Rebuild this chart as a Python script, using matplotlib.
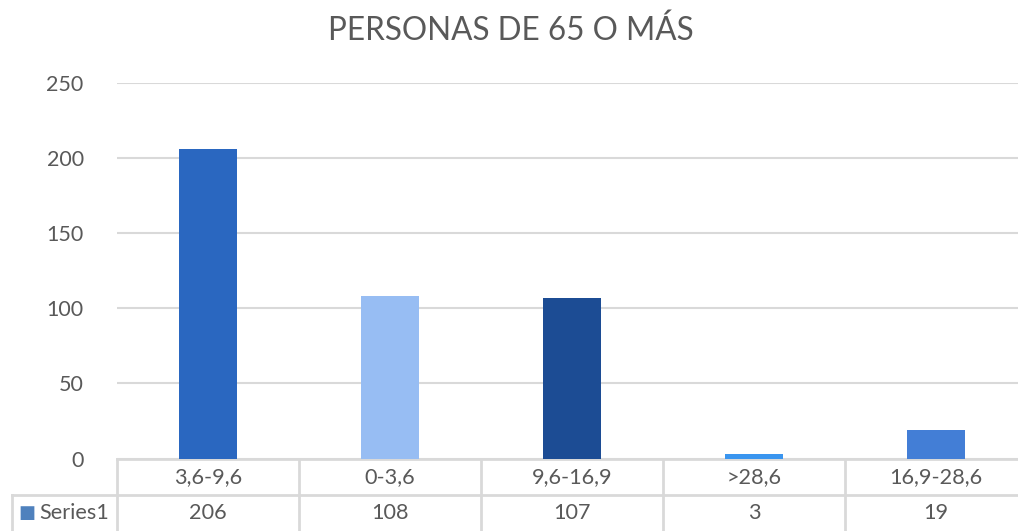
import matplotlib.pyplot as plt
import matplotlib.transforms as mtransforms

# Chart data
categories = ["3,6-9,6", "0-3,6", "9,6-16,9", ">28,6", "16,9-28,6"]
values = [206, 108, 107, 3, 19]
bar_colors = ["#2a67c0", "#97bdf3", "#1c4c94", "#3a95ef", "#437ed6"]
series_name = "Series1"
title = "PERSONAS DE 65 O MÁS"
y_ticks = [0, 50, 100, 150, 200, 250]

text_color = "#595959"
grid_color = "#d9d9d9"

plt.rcParams["font.family"] = ["Lato", "DejaVu Sans"]

fig = plt.figure(figsize=(10.18, 5.31), dpi=100)
# plot area runs slightly past the right edge, as in the source
ax = fig.add_axes([0.1149, 0.1365, 0.8939, 0.7072])

x = list(range(len(categories)))
ax.bar(x, values, width=0.32, color=bar_colors, zorder=3)

ax.set_xlim(-0.5, len(categories) - 0.5)
ax.set_ylim(0, 250)
ax.set_yticks(y_ticks)
ax.set_yticklabels([str(t) for t in y_ticks])
ax.tick_params(axis="y", length=0, pad=24, labelsize=15.5, labelcolor=text_color)
ax.set_xticks([])
for s in ax.spines.values():
    s.set_visible(False)
ax.grid(axis="y", color=grid_color, linewidth=1.5, zorder=0)

fig.text(0.5015, 0.925, title, ha="center", va="baseline", fontsize=22.7,
         color=text_color)

# data table below the plot (x in data coords, y in axes fraction)
trans = mtransforms.blended_transform_factory(ax.transData, ax.transAxes)
row_h = 36.5 / (0.7072 * 531)
y0 = 0.0
y1 = -row_h
y2 = -2 * row_h
lw = 2.0
n = len(categories)
line_kw = dict(color=grid_color, linewidth=lw, transform=trans, clip_on=False,
               zorder=1)
ax.plot([-0.5, n - 0.5], [y0, y0], **line_kw)
ax.plot([-0.5, n - 0.5], [y1, y1], **line_kw)
ax.plot([-0.5, n - 0.5], [y2, y2], **line_kw)
for i in range(n + 1):
    ax.plot([i - 0.5, i - 0.5], [y0, y2], **line_kw)

# left header cell for the series row
left_x = -0.5 - 105 / 182
ax.plot([left_x, -0.5], [y1, y1], **line_kw)
ax.plot([left_x, -0.5], [y2, y2], **line_kw)
ax.plot([left_x, left_x], [y1, y2], **line_kw)

for i, (cat, val) in enumerate(zip(categories, values)):
    ax.text(i, (y0 + y1) / 2, cat, transform=trans, ha="center", va="center",
            fontsize=15.6, color=text_color)
    ax.text(i, (y1 + y2) / 2, str(val), transform=trans, ha="center",
            va="center", fontsize=15.6, color=text_color)

ax.text(left_x + 6 / 182, (y1 + y2) / 2, "\u25a0", transform=trans,
        ha="left", va="center", fontsize=13, color="#4f81bd",
        family=["DejaVu Sans"])
ax.text(left_x + 27 / 182, (y1 + y2) / 2, series_name, transform=trans,
        ha="left", va="center", fontsize=15.6, color=text_color)

fig.savefig("out.png", dpi=100, facecolor="white")
